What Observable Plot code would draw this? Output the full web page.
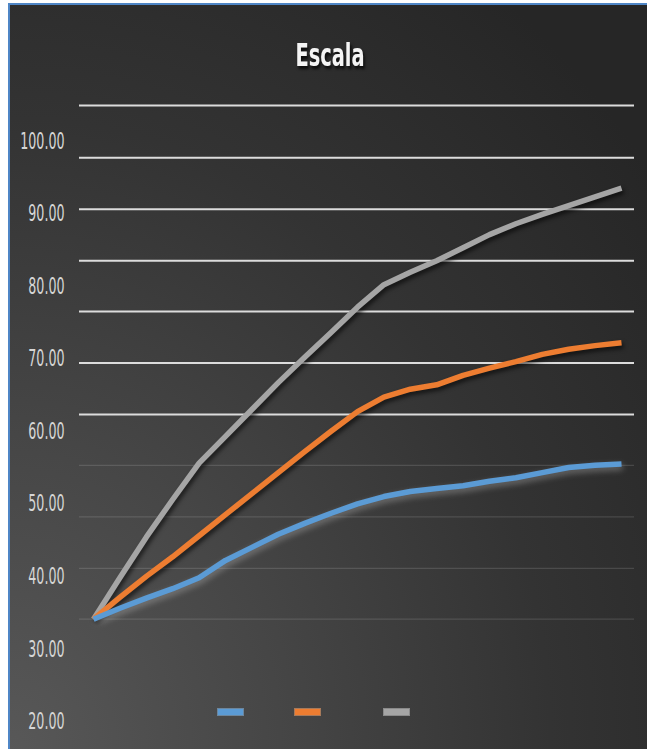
<!DOCTYPE html>
<html>
<head>
<meta charset="utf-8">
<script src="https://cdn.jsdelivr.net/npm/d3@7"></script>
<script src="https://cdn.jsdelivr.net/npm/@observablehq/plot@0.6"></script>
<style>
  html, body { margin: 0; padding: 0; background: #ffffff; }
  #chart {
    position: relative;
    width: 647px;
    height: 749px;
    overflow: hidden;
  }
  #panel {
    position: absolute;
    left: 8px;
    top: 3px;
    width: 637px;
    height: 746px;
    border-left: 2px solid #4f86c6;
    border-top: 2px solid #4f86c6;
    background: radial-gradient(ellipse farthest-corner at 0% 100%, #585858 0%, #464646 30%, #333333 60%, #262626 90%);
  }
  #title {
    position: absolute;
    left: 0;
    width: 660px;
    top: 37px;
    text-align: center;
    font-family: "DejaVu Sans Condensed", "Liberation Sans", sans-serif;
    font-weight: bold;
    font-size: 27px;
    color: #f4f4f4;
    text-shadow: 2px 2px 3px rgba(0, 0, 0, 0.75);
    transform: scale(0.8, 1.18);
    transform-origin: 330px 0;
  }
  #plot { position: absolute; left: 0; top: 0; }
  #plot svg { overflow: visible; }
  .serie path { stroke-linejoin: round; }
  .sombra path { filter: drop-shadow(2px 3px 2px rgba(0, 0, 0, 0.6)); }
  .halo path { filter: drop-shadow(1px 3px 3px rgba(190, 190, 190, 0.45)); }
  #legend .swatch {
    position: absolute;
    top: 708px;
    width: 25px;
    height: 6px;
    border: 1px solid rgba(120, 120, 120, 0.6);
  }
</style>
</head>
<body>
<div id="chart">
  <div id="panel"></div>
  <div id="plot"></div>
  <div id="title">Escala</div>
  <div id="legend"></div>
</div>
<script>
// Periods along the horizontal axis
const periodos = [1, 2, 3, 4, 5, 6, 7, 8, 9, 10, 11, 12, 13, 14, 15, 16, 17, 18, 19, 20, 21];

// Series values
const serieAzul = [34.1, 35.6, 37.0, 38.3, 39.8, 42.2, 44.0, 45.8, 47.3, 48.7, 50.0, 51.0, 51.7, 52.1, 52.5, 53.1, 53.6, 54.3, 55.0, 55.3, 55.5];
const serieNaranja = [34.1, 37.1, 40.0, 42.7, 45.6, 48.5, 51.4, 54.3, 57.2, 60.0, 62.7, 64.7, 65.8, 66.4, 67.7, 68.7, 69.6, 70.6, 71.3, 71.8, 72.2];
const serieGris = [34.1, 39.8, 45.4, 50.6, 55.6, 59.3, 63.0, 66.7, 70.2, 73.6, 77.1, 80.2, 81.9, 83.5, 85.3, 87.1, 88.6, 89.9, 91.1, 92.3, 93.5];

// Axis tick labels
const tickValores = [20, 30, 40, 50, 60, 70, 80, 90, 100];

// Horizontal gridline levels (bright upper lines, faint lower lines)
const gridPrincipal = [62.3, 69.4, 76.5, 83.5, 90.6, 97.7, 104.9];
const gridTenue = [34.1, 41.1, 48.2, 55.3];

const colores = { azul: "#5b9bd5", naranja: "#ed7d31", gris: "#a5a5a5" };

const series = [
  { clave: "gris", valores: serieGris, clase: "serie sombra" },
  { clave: "naranja", valores: serieNaranja, clase: "serie sombra" },
  { clave: "azul", valores: serieAzul, clase: "serie halo" }
];

const filas = series.map(s => periodos.map((p, i) => ({ periodo: p, valor: s.valores[i] })));

const chart = Plot.plot({
  width: 647,
  height: 749,
  marginLeft: 79,
  marginRight: 13,
  marginTop: 100,
  marginBottom: 28,
  style: {
    background: "transparent",
    color: "#d6d6d6",
    fontFamily: "\"DejaVu Sans Condensed\", \"Liberation Sans\", sans-serif",
    fontSize: "19px"
  },
  x: { type: "linear", domain: [1, 21], range: [93, 621], axis: null },
  y: { domain: [20, 100], range: [721, 140.5] },
  marks: [
    Plot.ruleY(gridTenue, { stroke: "#ffffff", strokeOpacity: 0.13, strokeWidth: 1.2 }),
    Plot.ruleY(gridPrincipal, { stroke: "#dcdcdc", strokeWidth: 2 }),
    Plot.axisY(tickValores, {
      tickSize: 0,
      tickPadding: 15,
      tickFormat: d => d.toFixed(2),
      label: null
    }),
    ...series.map((s, k) =>
      Plot.line(filas[k], {
        x: "periodo",
        y: "valor",
        stroke: colores[s.clave],
        strokeWidth: 5.5,
        strokeLinecap: "butt",
        className: s.clase
      })
    )
  ]
});

// Narrow, tall tick labels: keep each label's anchor, squeeze it horizontally
d3.select(chart).selectAll('g[aria-label="y-axis tick label"] text').each(function () {
  const t = this.getAttribute("transform") || "";
  const m = /translate\(([-\d.e]+)[ ,]+([-\d.e]+)\)/.exec(t);
  if (m) {
    this.setAttribute("transform", `translate(${m[1]},${m[2]}) scale(0.74,1.25)`);
  } else {
    const x = +(this.getAttribute("x") || 0);
    const y = +(this.getAttribute("y") || 0);
    this.removeAttribute("x");
    this.removeAttribute("y");
    this.setAttribute("dy", "0.32em");
    this.setAttribute("transform", `translate(${x},${y}) scale(0.74,1.25)`);
  }
});

document.getElementById("plot").appendChild(chart);

// Legend swatches (series without names)
const legendLeft = { azul: 217, naranja: 294, gris: 383 };
const legend = d3.select("#legend");
["azul", "naranja", "gris"].forEach(c => {
  legend.append("div")
    .attr("class", "swatch")
    .style("left", legendLeft[c] + "px")
    .style("background", colores[c]);
});
</script>
</body>
</html>
